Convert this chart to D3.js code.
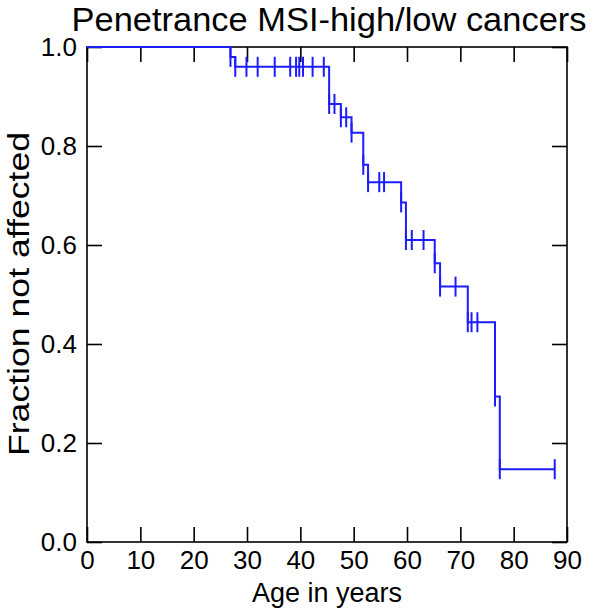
<!DOCTYPE html>
<html>
<head>
<meta charset="utf-8">
<script src="https://cdn.jsdelivr.net/npm/d3@7"></script>
<style>
  html, body { margin: 0; padding: 0; background: #fff; }
  svg { display: block; }
  text { font-family: "Liberation Sans", Arial, sans-serif; fill: #000; }
</style>
</head>
<body>
<svg id="chart" width="600" height="613"></svg>
<script>
// ---- data ----
const titleText = "Penetrance MSI-high/low cancers";
const xLabel = "Age in years";
const yLabel = "Fraction not affected";
const xTickValues = [0, 10, 20, 30, 40, 50, 60, 70, 80, 90];
const yTickValues = [0, 0.2, 0.4, 0.6, 0.8, 1.0];
const yTickLabels = ["0.0", "0.2", "0.4", "0.6", "0.8", "1.0"];

// Kaplan-Meier steps: age of each drop and survival after the drop
const eventAges = [26.9, 27.8, 45.4, 47.6, 49.6, 51.8, 52.7, 58.9, 59.8, 65.2, 66.2, 71.4, 76.5, 77.4];
const eventSurvival = [0.98, 0.96, 0.885, 0.858, 0.827, 0.762, 0.727, 0.686, 0.610, 0.563, 0.516, 0.444, 0.294, 0.147];
const lastFollowUp = 87.7;

// tick marks (censored / observed points)
const markAges = [
  26.9, 27.8,
  29.9, 32.0, 35.2, 38.1, 39.2, 39.8, 40.5, 42.3, 44.4,
  45.4, 46.4,
  47.6, 48.6,
  49.6,
  51.8,
  52.7, 54.8, 55.7,
  58.9,
  59.8, 60.9, 63.1,
  65.2,
  66.2, 69.1,
  71.4, 72.1, 73.2,
  76.5,
  77.4, 87.7
];
const markSurvival = [
  0.98, 0.96,
  0.96, 0.96, 0.96, 0.96, 0.96, 0.96, 0.96, 0.96, 0.96,
  0.885, 0.885,
  0.858, 0.858,
  0.827,
  0.762,
  0.727, 0.727, 0.727,
  0.686,
  0.610, 0.610, 0.610,
  0.563,
  0.516, 0.516,
  0.444, 0.444, 0.444,
  0.294,
  0.147, 0.147
];

// ---- drawing ----
const svg = d3.select("#chart");
const mLeft = 87, mRight = 567, mTop = 47, mBottom = 542;
const x = d3.scaleLinear().domain([0, 90]).range([mLeft, mRight]);
const y = d3.scaleLinear().domain([0, 1]).range([mBottom, mTop]);
const blue = "#1c1cff";

// frame
svg.append("rect")
  .attr("x", mLeft).attr("y", mTop)
  .attr("width", mRight - mLeft).attr("height", mBottom - mTop)
  .attr("fill", "none").attr("stroke", "#000").attr("stroke-width", 1.6);

function styleAxis(g) {
  g.select(".domain").remove();
  g.selectAll(".tick line").attr("stroke", "#000").attr("stroke-width", 1.6);
  g.selectAll(".tick text").attr("font-size", 26).attr("fill", "#000")
    .attr("font-family", '"Liberation Sans", Arial, sans-serif');
}

svg.append("g").attr("transform", `translate(0,${mBottom})`)
  .call(d3.axisBottom(x).tickValues(xTickValues).tickSize(-15).tickPadding(9).tickFormat(d3.format("d")))
  .call(styleAxis);
svg.append("g").attr("transform", `translate(0,${mTop})`)
  .call(d3.axisTop(x).tickValues(xTickValues).tickSize(-15).tickFormat(""))
  .call(styleAxis);
svg.append("g").attr("transform", `translate(${mLeft},0)`)
  .call(d3.axisLeft(y).tickValues(yTickValues).tickSize(-15).tickPadding(10)
    .tickFormat((d, i) => yTickLabels[i]))
  .call(styleAxis);
svg.append("g").attr("transform", `translate(${mRight},0)`)
  .call(d3.axisRight(y).tickValues(yTickValues).tickSize(-15).tickFormat(""))
  .call(styleAxis);

// step curve
const stepPts = [[0, 1.0]];
eventAges.forEach((a, i) => stepPts.push([a, eventSurvival[i]]));
stepPts.push([lastFollowUp, eventSurvival[eventSurvival.length - 1]]);
const line = d3.line().x(d => x(d[0])).y(d => y(d[1])).curve(d3.curveStepAfter);
svg.append("path").datum(stepPts)
  .attr("d", line).attr("fill", "none")
  .attr("stroke", blue).attr("stroke-width", 2);

// marks
svg.append("g").selectAll("line").data(markAges).join("line")
  .attr("x1", d => x(d)).attr("x2", d => x(d))
  .attr("y1", (d, i) => y(markSurvival[i]) - 10)
  .attr("y2", (d, i) => y(markSurvival[i]) + 10)
  .attr("stroke", blue).attr("stroke-width", 2);

// titles
svg.append("text").attr("x", 329).attr("y", 30.5)
  .attr("text-anchor", "middle").attr("font-size", 33.5)
  .attr("textLength", 515).attr("lengthAdjust", "spacingAndGlyphs")
  .text(titleText);
svg.append("text").attr("x", 327).attr("y", 602)
  .attr("text-anchor", "middle").attr("font-size", 27).text(xLabel);
svg.append("text").attr("transform", "translate(28.5,294) rotate(-90)")
  .attr("text-anchor", "middle").attr("font-size", 30)
  .attr("textLength", 324).attr("lengthAdjust", "spacingAndGlyphs")
  .text(yLabel);
</script>
</body>
</html>
